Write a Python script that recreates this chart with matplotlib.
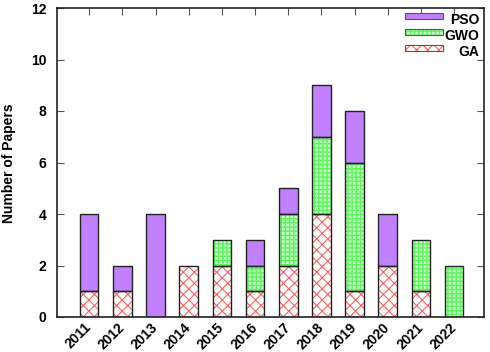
import matplotlib
matplotlib.use("Agg")
import matplotlib.pyplot as plt
from matplotlib.patches import Rectangle
import numpy as np

years = ["2011", "2012", "2013", "2014", "2015", "2016", "2017", "2018", "2019", "2020", "2021", "2022"]
ga = [1, 1, 0, 2, 2, 1, 2, 4, 1, 2, 1, 0]
gwo = [0, 0, 0, 0, 1, 1, 2, 3, 5, 0, 2, 2]
pso = [3, 1, 4, 0, 0, 1, 1, 2, 2, 2, 0, 0]
series_names = ["PSO", "GWO", "GA"]
yticks = [0, 2, 4, 6, 8, 10, 12]

plt.rcParams['font.family'] = ['Liberation Sans', 'DejaVu Sans']
plt.rcParams['hatch.linewidth'] = 0.8

fig = plt.figure(figsize=(4.9, 3.52), dpi=100)
ax = fig.add_axes([57/490, 35/352, 427/490, 309/352])

x = np.arange(len(years))
w = 0.56
ga_a = np.array(ga); gwo_a = np.array(gwo); pso_a = np.array(pso)

styles = {
    "GA": dict(face="white", hatch="xxx", hcol="#ff6060", hlw=0.8),
    "GWO": dict(face="#c4ffc4", hatch="++++", hcol="#5cf55c", hlw=1.0),
    "PSO": dict(face="#c080ff", hatch=None, hcol="#c080ff", hlw=0.8),
}

def draw(vals, bottom, name):
    st = styles[name]
    m = vals > 0
    plt.rcParams['hatch.linewidth'] = st["hlw"]
    ax.bar(x[m], vals[m], w, bottom=bottom[m], color=st["face"], hatch=st["hatch"],
           edgecolor=st["hcol"], linewidth=0, zorder=2)
    ax.bar(x[m], vals[m], w, bottom=bottom[m], fill=False, edgecolor="#222222",
           linewidth=1.0, zorder=3)

draw(ga_a, np.zeros(len(x)), "GA")
draw(gwo_a, ga_a.astype(float), "GWO")
draw(pso_a, (ga_a + gwo_a).astype(float), "PSO")

ax.set_xlim(-0.97, 11.9)
ax.set_ylim(0, 12)
ax.set_yticks(yticks)
ax.set_yticklabels([str(t) for t in yticks], fontsize=10, fontweight="bold")
ax.set_xticks(x)
ax.set_xticklabels(years, rotation=45, ha="right", va="center", rotation_mode="anchor",
                   fontsize=10, fontweight="bold")
ax.tick_params(axis="both", direction="in", length=5, width=0.8, color="#555555",
               top=True, right=True, bottom=True, left=True)
ax.tick_params(axis="x", pad=6)
ax.tick_params(axis="y", pad=7.5)
for s in ax.spines.values():
    s.set_linewidth(1.2)
    s.set_color("#222222")

fig.text(9/490, 1 - 163/352, "Number of Papers", rotation=90, ha="center", va="center",
         fontsize=10, fontweight="bold")

# legend (gnuplot-style key)
for i, name in enumerate(series_names):
    st = styles[name]
    yc = 19 + 16 * i  # text centre, pixels from top
    y0 = 1 - yc / 352
    x0 = 405 / 490
    rw = 38 / 490
    rh = 6 / 352
    plt.rcParams['hatch.linewidth'] = st["hlw"]
    fig.patches.append(Rectangle((x0, y0), rw, rh, transform=fig.transFigure,
                                 facecolor=st["face"], hatch=st["hatch"], edgecolor=st["hcol"],
                                 linewidth=0, zorder=5))
    fig.patches.append(Rectangle((x0, y0), rw, rh, transform=fig.transFigure,
                                 fill=False, edgecolor="#555555", linewidth=0.8, zorder=6))
    fig.text(479/490, 1 - (yc + 0.5)/352, name, ha="right", va="center", fontsize=10, fontweight="bold")

fig.savefig("out.png", dpi=100)
